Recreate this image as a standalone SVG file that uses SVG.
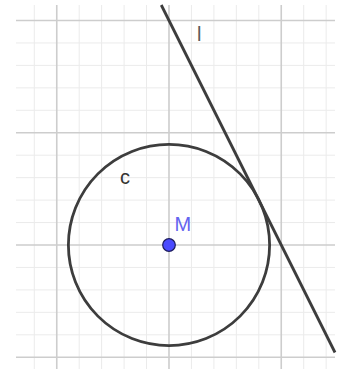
<svg xmlns="http://www.w3.org/2000/svg" width="341" height="369" viewBox="0 0 341 369">
<style>
.minor{stroke:#ebebeb;stroke-width:1;fill:none}
.major{stroke:#cdcdcd;stroke-width:1.6;fill:none}
.obj{stroke:#3d3d3d;stroke-width:2.8;fill:none}
.lbl{font-family:"Liberation Sans",Arial,sans-serif;font-size:20px}
</style>
<rect width="341" height="369" fill="#ffffff"/>
<g id="grid">
<g class="minor">
<path d="M34.3 5V369M79.2 5V369M101.6 5V369M124.1 5V369M146.5 5V369M191.45 5V369M213.9 5V369M236.35 5V369M258.8 5V369M303.7 5V369M326.15 5V369"/>
<path d="M16 42.95H335M16 65.4H335M16 87.85H335M16 110.3H335M16 155.2H335M16 177.65H335M16 200.1H335M16 222.55H335M16 267.45H335M16 289.9H335M16 312.35H335M16 334.8H335"/>
</g>
<g class="major">
<path d="M56.75 5V369M169 5V369M281.25 5V369"/>
<path d="M16 20.5H335M16 132.75H335M16 245H335M16 357.25H335"/>
</g>
</g>
<g id="circle-c">
<circle class="obj" cx="169" cy="245" r="100.6"/>
<text class="lbl" x="120" y="184" fill="#333333">c</text>
</g>
<g id="line-l">
<line class="obj" x1="161.25" y1="5" x2="335" y2="352.5"/>
<text class="lbl" x="197" y="41" fill="#5a5a5a">l</text>
</g>
<g id="point-M">
<circle cx="169" cy="245" r="6.3" fill="#4a4aff" stroke="#1c1c5c" stroke-width="1.2"/>
<text class="lbl" x="174.5" y="231" fill="#6464f0">M</text>
</g>
</svg>
